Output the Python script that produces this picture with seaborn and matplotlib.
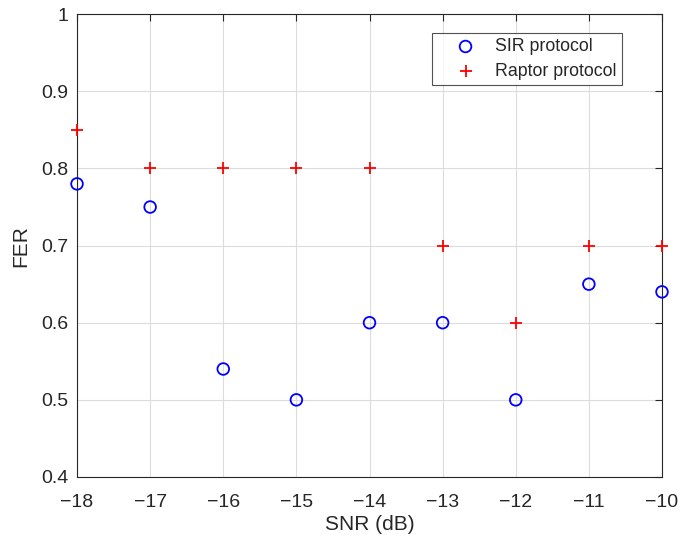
import pandas as pd
import matplotlib
matplotlib.use("Agg")
import matplotlib.pyplot as plt
import seaborn as sns

# data
snr = [-18, -17, -16, -15, -14, -13, -12, -11, -10]
fer_sir = [0.78, 0.75, 0.54, 0.50, 0.60, 0.60, 0.50, 0.65, 0.64]
fer_raptor = [0.85, 0.80, 0.80, 0.80, 0.80, 0.70, 0.60, 0.70, 0.70]

df = pd.DataFrame({"SNR": snr * 2,
                   "FER": fer_sir + fer_raptor,
                   "proto": ["SIR protocol"] * len(snr) + ["Raptor protocol"] * len(snr)})

sns.set_style("white")
plt.rcParams["font.family"] = ["Liberation Sans", "DejaVu Sans"]

fig = plt.figure(figsize=(6.81, 5.40), dpi=100)
ax = fig.add_axes([0.1131, 0.1167, 0.859, 0.857])

sir = df[df.proto == "SIR protocol"]
rap = df[df.proto == "Raptor protocol"]
sns.scatterplot(data=sir, x="SNR", y="FER", ax=ax, marker="o", s=70,
                facecolor="none", edgecolor="blue", linewidth=1.3,
                label="SIR protocol", clip_on=False, zorder=3)
sns.scatterplot(data=rap, x="SNR", y="FER", ax=ax, marker="+", s=70,
                color="red", linewidth=1.3,
                label="Raptor protocol", clip_on=False, zorder=3)

ax.set_xlim(-18, -10)
ax.set_ylim(0.4, 1.0)
ax.set_xticks(range(-18, -9))
ax.set_xticklabels([f"\u2212{abs(v)}" for v in range(-18, -9)])
ax.set_yticks([0.4, 0.5, 0.6, 0.7, 0.8, 0.9, 1.0])
ax.set_yticklabels(["0.4", "0.5", "0.6", "0.7", "0.8", "0.9", "1"])
ax.grid(True, color="#dcdcdc", linewidth=0.8)
ax.set_axisbelow(True)
ax.tick_params(direction="in", length=5, width=0.8, labelsize=14, colors="#262626",
               top=True, right=True)
ax.tick_params(axis="x", pad=12)
ax.tick_params(axis="y", pad=6)
for sp in ax.spines.values():
    sp.set_color("#262626")
    sp.set_linewidth(0.8)
ax.set_xlabel("SNR (dB)", fontsize=15, color="#262626", labelpad=3)
ax.set_ylabel("FER", fontsize=15, color="#262626", labelpad=8)

leg = ax.legend(loc="upper left", bbox_to_anchor=(0.607, 0.851, 0.325, 0.108),
                mode="expand", borderaxespad=0, fontsize=12.8,
                frameon=True, fancybox=False, edgecolor="#262626",
                borderpad=0.28, handlelength=3.2, handletextpad=0.05,
                labelspacing=0.42)
leg.get_frame().set_linewidth(0.8)

fig.savefig("out.png", dpi=100)
